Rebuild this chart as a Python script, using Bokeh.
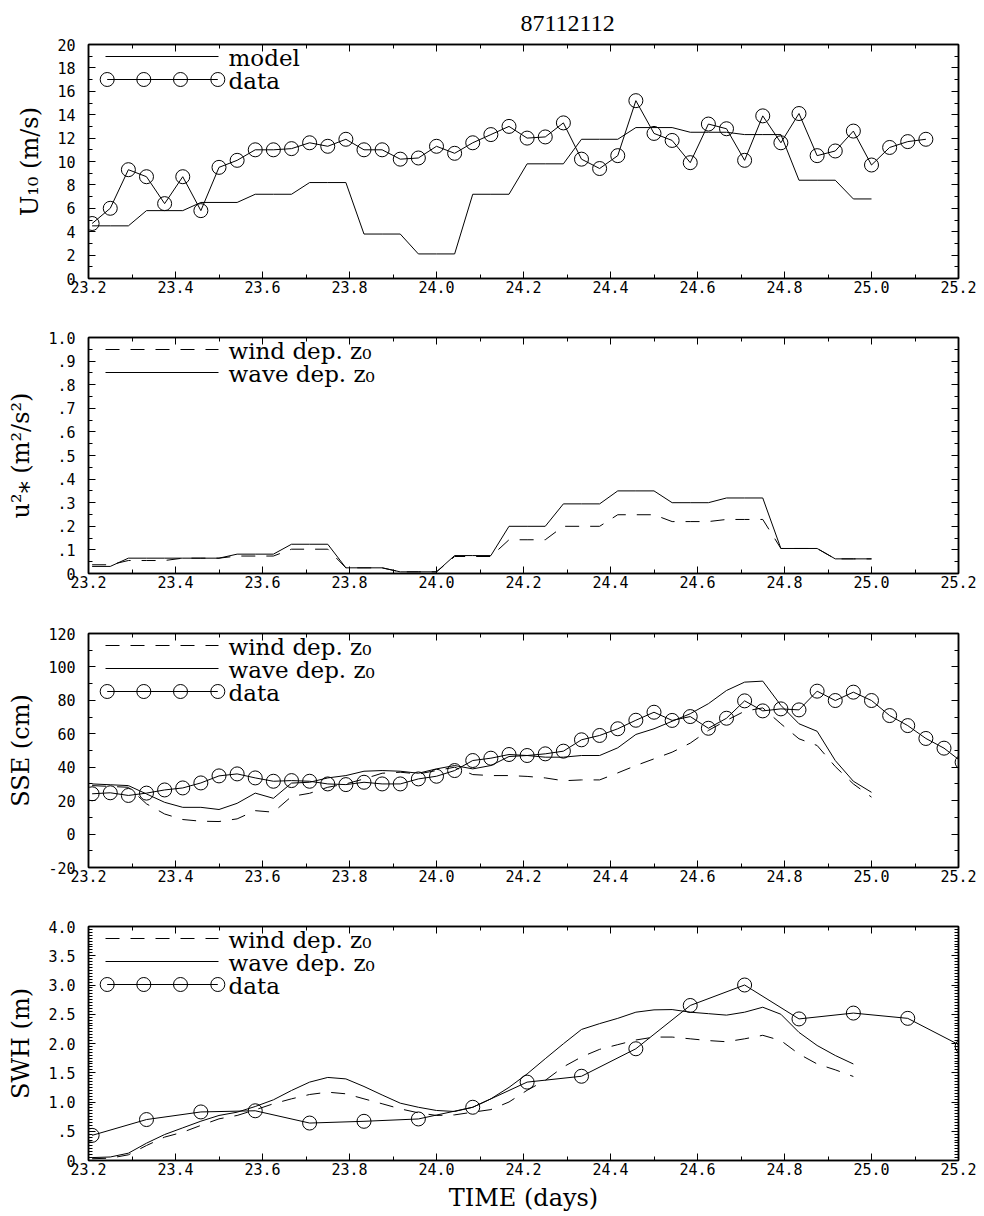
from bokeh.plotting import figure
from bokeh.layouts import column
from bokeh.models import (Range1d, FixedTicker, LinearAxis, CustomJSTickFormatter)
from bokeh.core.properties import value
from bokeh.embed import file_html
from bokeh.resources import INLINE

# ------------------------------------------------------------------ data
TITLE = "87112112"
X_LABEL = "TIME (days)"

X_TICKS = [23.2, 23.4, 23.6, 23.8, 24.0, 24.2, 24.4, 24.6, 24.8, 25.0, 25.2]
X_TICK_LABELS = ["23.2", "23.4", "23.6", "23.8", "24.0", "24.2", "24.4", "24.6", "24.8", "25.0", "25.2"]
X_MINOR = [23.3, 23.5, 23.7, 23.9, 24.1, 24.3, 24.5, 24.7, 24.9, 25.1]

# hourly time stamps (days)
DAYS_HOURLY = [23.2083, 23.25, 23.2917, 23.3333, 23.375, 23.4167, 23.4583, 23.5,
               23.5417, 23.5833, 23.625, 23.6667, 23.7083, 23.75, 23.7917, 23.8333,
               23.875, 23.9167, 23.9583, 24.0, 24.0417, 24.0833, 24.125, 24.1667,
               24.2083, 24.25, 24.2917, 24.3333, 24.375, 24.4167, 24.4583, 24.5,
               24.5417, 24.5833, 24.625, 24.6667, 24.7083, 24.75, 24.7917, 24.8333,
               24.875, 24.9167, 24.9583, 25.0, 25.0417, 25.0833, 25.125, 25.1667,
               25.2083]
# 3-hourly time stamps of wave-height observations
DAYS_3H = [23.2083, 23.3333, 23.4583, 23.5833, 23.7083, 23.8333, 23.9583, 24.0833,
           24.2083, 24.3333, 24.4583, 24.5833, 24.7083, 24.8333, 24.9583, 25.0833,
           25.2083]

# panel 1: U10 (m/s)
U10_MODEL = [4.5, 4.5, 4.5, 5.8, 5.8, 5.8, 6.5, 6.5, 6.5, 7.2, 7.2, 7.2, 8.2, 8.2, 8.2,
             3.8, 3.8, 3.8, 2.1, 2.1, 2.1, 7.2, 7.2, 7.2, 9.8, 9.8, 9.8, 11.9, 11.9, 11.9,
             12.9, 12.9, 12.9, 12.5, 12.5, 12.5, 12.3, 12.3, 12.3, 8.4, 8.4, 8.4, 6.8, 6.8]
U10_DATA = [4.7, 6.0, 9.3, 8.7, 6.4, 8.7, 5.8, 9.5, 10.1, 11.0, 11.0, 11.1, 11.6, 11.3,
            11.9, 11.0, 11.0, 10.2, 10.3, 11.3, 10.7, 11.6, 12.3, 13.0, 12.0, 12.1, 13.3,
            10.2, 9.4, 10.5, 15.2, 12.4, 11.8, 9.9, 13.2, 12.8, 10.1, 13.9, 11.6, 14.1,
            10.5, 10.9, 12.6, 9.7, 11.2, 11.7, 11.9]

# panel 2: u*^2 (m^2/s^2)
USTAR2_WIND = [0.037, 0.037, 0.055, 0.055, 0.055, 0.065, 0.065, 0.065, 0.074, 0.074,
               0.074, 0.103, 0.103, 0.103, 0.024, 0.024, 0.024, 0.007, 0.007, 0.007,
               0.072, 0.072, 0.072, 0.143, 0.143, 0.143, 0.20, 0.20, 0.20, 0.249, 0.249,
               0.249, 0.22, 0.22, 0.22, 0.229, 0.229, 0.229, 0.106, 0.106, 0.106, 0.062,
               0.062, 0.062]
USTAR2_WAVE = [0.03, 0.03, 0.065, 0.065, 0.065, 0.065, 0.065, 0.065, 0.082, 0.082,
               0.082, 0.124, 0.124, 0.124, 0.024, 0.024, 0.024, 0.007, 0.007, 0.007,
               0.076, 0.076, 0.076, 0.20, 0.20, 0.20, 0.295, 0.295, 0.295, 0.35, 0.35,
               0.35, 0.30, 0.30, 0.30, 0.32, 0.32, 0.32, 0.106, 0.106, 0.106, 0.062,
               0.062, 0.062]

# panel 3: SSE (cm)
SSE_WIND = [29, 28.5, 28, 18.1, 12, 8.7, 7.7, 7.5, 9.1, 14, 13.1, 22.5, 24.4, 28, 30,
            33, 36.4, 37, 36, 38, 40, 35.6, 35, 35, 34.5, 33.6, 31.9, 32.4, 32.4, 36.6,
            41, 45, 49, 54.4, 62, 68, 73.5, 75.5, 66, 57, 53, 40.4, 30, 22.1]
SSE_WAVE = [30, 29.5, 29, 24, 19, 16, 16, 14.7, 18.4, 24.5, 21.4, 30.5, 31, 33.6, 35,
            37.6, 38, 37.6, 36.4, 39, 41, 39, 41, 46.4, 47, 46, 46, 47, 47, 51.6, 59.6,
            63, 67.5, 72, 78, 85.9, 90.9, 91.5, 77, 66, 61.5, 44, 31.6, 25]
SSE_DATA = [24.1, 24.7, 23.1, 24.5, 26.4, 27.6, 30.6, 34.8, 36, 33.6, 31.6, 32, 31.6,
            30, 29.6, 31, 30, 30, 33, 34.6, 38, 44, 45.4, 47.6, 47, 48, 49.6, 56.4, 59,
            63, 68.1, 72.9, 68, 70.3, 63.3, 69.3, 79.7, 73.7, 74.9, 74.3, 85.5, 79.9,
            84.9, 79.9, 70.9, 64.9, 57.2, 51.4, 43]

# panel 4: SWH (m)
SWH_WIND = [0.03, 0.04, 0.097, 0.256, 0.4, 0.484, 0.6, 0.712, 0.77, 0.866, 0.97, 1.054,
            1.128, 1.168, 1.14, 1.054, 0.97, 0.883, 0.815, 0.77, 0.78, 0.826, 0.87, 1.0,
            1.2, 1.37, 1.6, 1.77, 1.9, 1.98, 2.06, 2.11, 2.11, 2.08, 2.05, 2.03, 2.08,
            2.14, 2.05, 1.82, 1.65, 1.55, 1.436]
SWH_WAVE = [0.05, 0.06, 0.125, 0.296, 0.444, 0.558, 0.672, 0.77, 0.826, 0.923, 1.037,
            1.197, 1.34, 1.42, 1.395, 1.265, 1.12, 0.98, 0.91, 0.855, 0.838, 0.91, 1.054,
            1.25, 1.48, 1.74, 1.995, 2.24, 2.34, 2.43, 2.535, 2.575, 2.58, 2.535, 2.51,
            2.485, 2.535, 2.62, 2.5, 2.19, 1.966, 1.795, 1.65]
SWH_DATA = [0.43, 0.70, 0.83, 0.85, 0.64, 0.67, 0.71, 0.91, 1.34, 1.44, 1.91, 2.65, 3.0,
            2.42, 2.52, 2.43, 1.95]

# y axes
Y1_TICKS = [0, 2, 4, 6, 8, 10, 12, 14, 16, 18, 20]
Y1_LABELS = ["0", "2", "4", "6", "8", "10", "12", "14", "16", "18", "20"]
Y1_MINOR = [1, 3, 5, 7, 9, 11, 13, 15, 17, 19]
Y2_TICKS = [0, 0.1, 0.2, 0.3, 0.4, 0.5, 0.6, 0.7, 0.8, 0.9, 1.0]
Y2_LABELS = ["0", ".1", ".2", ".3", ".4", ".5", ".6", ".7", ".8", ".9", "1.0"]
Y2_MINOR = [0.05, 0.15, 0.25, 0.35, 0.45, 0.55, 0.65, 0.75, 0.85, 0.95]
Y3_TICKS = [-20, 0, 20, 40, 60, 80, 100, 120]
Y3_LABELS = ["-20", "0", "20", "40", "60", "80", "100", "120"]
Y3_MINOR = [-10, 10, 30, 50, 70, 90, 110]
Y4_TICKS = [0, 0.5, 1.0, 1.5, 2.0, 2.5, 3.0, 3.5, 4.0]
Y4_LABELS = ["0", ".5", "1.0", "1.5", "2.0", "2.5", "3.0", "3.5", "4.0"]
Y4_MINOR = [round(0.05 * k, 2) for k in range(1, 80) if k % 10 != 0]

# legend labels
LBL_MODEL = "model"
LBL_DATA = "data"
LBL_WIND = "wind dep. z\u2080"
LBL_WAVE = "wave dep. z\u2080"

# ------------------------------------------------------------------ style / layout
SERIF = "DejaVu Serif"
MONO = "DejaVu Sans Mono"
DASH = "14 11"
FRAME_W = 870
# legend layout, in pixels measured from the frame's top-left corner
LEG_X0, LEG_X1 = 17, 130
LEG_CIRCLE_X = [18.7, 55.3, 92.0, 129.3]
LEG_TEXT_X = 140
LEG_ROW_DY = [12, 35, 58]


def label_formatter(tick_values, tick_labels):
    return CustomJSTickFormatter(
        args=dict(tv=tick_values, tl=tick_labels),
        code="const i = tv.findIndex(t => Math.abs(t - tick) < 1e-6);"
             "return i >= 0 ? tl[i] : '';")


def blank_formatter():
    return CustomJSTickFormatter(code="return '';")


def style_axis(ax):
    ax.axis_line_color = "black"
    ax.axis_line_width = 1.5
    ax.major_tick_in = 7
    ax.major_tick_out = 0
    ax.minor_tick_in = 4
    ax.minor_tick_out = 0
    ax.major_tick_line_color = "black"
    ax.minor_tick_line_color = "black"
    ax.major_label_text_font = MONO
    ax.major_label_text_font_size = "15px"
    ax.major_label_text_color = "black"
    ax.axis_label_text_font = SERIF
    ax.axis_label_text_font_size = "24px"
    ax.axis_label_text_font_style = "normal"
    ax.axis_label_text_color = "black"


def panel(height, top, bottom, yr, yt, yl, ym, ytitle, xtitle=None):
    p = figure(width=984, height=height, x_range=Range1d(23.2, 25.2),
               y_range=Range1d(*yr), output_backend="svg", toolbar_location=None,
               min_border_left=88, min_border_right=26, min_border_top=top,
               min_border_bottom=bottom)
    p.grid.visible = False
    p.outline_line_color = "black"
    p.outline_line_width = 1.5
    xtk = FixedTicker(ticks=X_TICKS, minor_ticks=X_MINOR)
    ytk = FixedTicker(ticks=yt, minor_ticks=ym)
    xa = p.xaxis[0]
    ya = p.yaxis[0]
    xa.ticker = xtk
    ya.ticker = ytk
    xa.formatter = label_formatter(X_TICKS, X_TICK_LABELS)
    ya.formatter = label_formatter(yt, yl)
    style_axis(xa)
    style_axis(ya)
    xa.major_label_standoff = 2
    ya.major_label_standoff = 13
    ya.axis_label = ytitle
    ya.axis_label_standoff = 10
    if xtitle:
        xa.axis_label = xtitle
        xa.axis_label_standoff = 6
    top_ax = LinearAxis(ticker=xtk, formatter=blank_formatter(), major_label_standoff=0)
    right_ax = LinearAxis(ticker=ytk, formatter=blank_formatter(), major_label_standoff=0)
    style_axis(top_ax)
    style_axis(right_ax)
    p.add_layout(top_ax, "above")
    p.add_layout(right_ax, "right")
    return p


def manual_legend(p, frame_h, entries):
    """Legend drawn in pixel coordinates of the frame (extra ranges)."""
    p.extra_x_ranges["leg"] = Range1d(0, FRAME_W)
    p.extra_y_ranges["leg"] = Range1d(0, frame_h)
    kw = dict(x_range_name="leg", y_range_name="leg")
    for k, (label, kind) in enumerate(entries):
        y = frame_h - LEG_ROW_DY[k]
        if kind == "data":
            p.line([LEG_CIRCLE_X[0], LEG_CIRCLE_X[-1]], [y, y], line_color="black",
                   line_width=1, **kw)
            p.scatter(LEG_CIRCLE_X, [y] * len(LEG_CIRCLE_X), marker="circle", size=14,
                      fill_alpha=0, line_color="black", line_width=1, **kw)
        else:
            p.line([LEG_X0, LEG_X1], [y, y], line_color="black", line_width=1,
                   line_dash=DASH if kind == "dash" else "solid", **kw)
        p.text([LEG_TEXT_X], [y - 1], text=[label], text_font=value(SERIF),
               text_font_size="23px", text_color="black", text_baseline="middle",
               text_align="left", **kw)


def line(p, x, y, dash="solid"):
    return p.line(x, y, line_color="black", line_width=1, line_dash=dash)


def circles(p, x, y):
    return p.scatter(x, y, marker="circle", size=14, fill_alpha=0,
                     line_color="black", line_width=1)


# ------------------------------------------------------------------ panel 1
p1 = panel(310, 44, 32, (0, 20), Y1_TICKS, Y1_LABELS, Y1_MINOR, "U\u2081\u2080 (m/s)")
p1.title.text = TITLE
p1.title.align = "left"
p1.title.offset = 432
p1.title.text_font = "Liberation Serif"
p1.title.text_font_size = "24px"
p1.title.text_font_style = "normal"
p1.title.text_color = "black"
p1.title.standoff = 27
line(p1, DAYS_HOURLY[:len(U10_MODEL)], U10_MODEL)
line(p1, DAYS_HOURLY[:len(U10_DATA)], U10_DATA)
circles(p1, DAYS_HOURLY[:len(U10_DATA)], U10_DATA)
manual_legend(p1, 234, [(LBL_MODEL, "solid"), (LBL_DATA, "data")])

# ------------------------------------------------------------------ panel 2
p2 = panel(295, 27, 32, (0, 1.0), Y2_TICKS, Y2_LABELS, Y2_MINOR,
           "u\u00b2\u204e (m\u00b2/s\u00b2)")
line(p2, DAYS_HOURLY[:len(USTAR2_WIND)], USTAR2_WIND, DASH)
line(p2, DAYS_HOURLY[:len(USTAR2_WAVE)], USTAR2_WAVE)
manual_legend(p2, 236, [(LBL_WIND, "dash"), (LBL_WAVE, "solid")])

# ------------------------------------------------------------------ panel 3
p3 = panel(294, 28, 32, (-20, 120), Y3_TICKS, Y3_LABELS, Y3_MINOR, "SSE (cm)")
line(p3, DAYS_HOURLY[:len(SSE_WIND)], SSE_WIND, DASH)
line(p3, DAYS_HOURLY[:len(SSE_WAVE)], SSE_WAVE)
line(p3, DAYS_HOURLY[:len(SSE_DATA)], SSE_DATA)
circles(p3, DAYS_HOURLY[:len(SSE_DATA)], SSE_DATA)
manual_legend(p3, 234, [(LBL_WIND, "dash"), (LBL_WAVE, "solid"), (LBL_DATA, "data")])

# ------------------------------------------------------------------ panel 4
p4 = panel(317, 27, 56, (0, 4.0), Y4_TICKS, Y4_LABELS, Y4_MINOR, "SWH (m)", X_LABEL)
line(p4, DAYS_HOURLY[:len(SWH_WIND)], SWH_WIND, DASH)
line(p4, DAYS_HOURLY[:len(SWH_WAVE)], SWH_WAVE)
line(p4, DAYS_3H, SWH_DATA)
circles(p4, DAYS_3H, SWH_DATA)
manual_legend(p4, 234, [(LBL_WIND, "dash"), (LBL_WAVE, "solid"), (LBL_DATA, "data")])

layout = column(p1, p2, p3, p4, spacing=0)
open("out.html", "w").write(file_html(layout, INLINE))
